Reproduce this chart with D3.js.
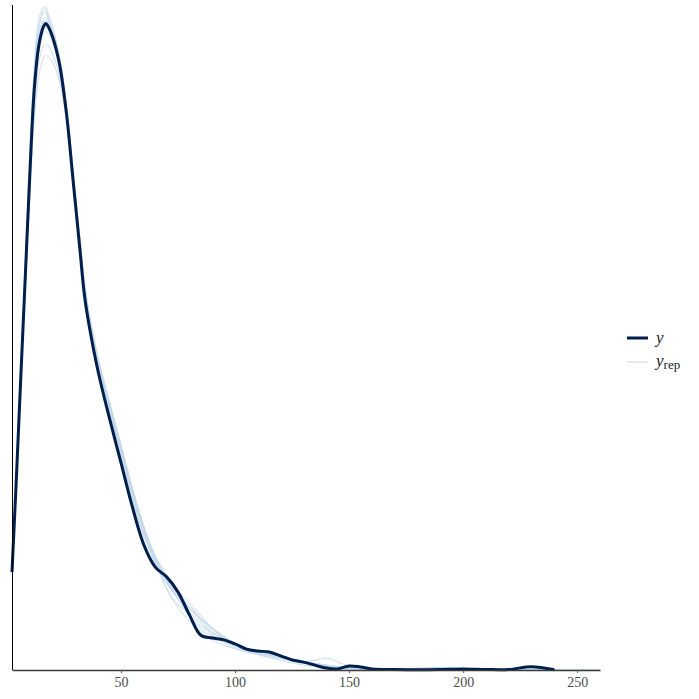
<!DOCTYPE html>
<meta charset="utf-8">
<style>
  body { margin: 0; background: #fff; }
  .yrep { fill: none; stroke: #c4d8ea; stroke-width: 1px; stroke-opacity: 0.9; }
  .yline { fill: none; stroke: #011f4b; stroke-width: 3px; }
  .tick text { font-family: "Liberation Serif", "DejaVu Serif", serif; font-size: 14px; fill: #4d4d4d; }
</style>
<body>
<script src="https://cdn.jsdelivr.net/npm/d3@7/dist/d3.min.js"></script>
<script>
// density evaluation grid (shared by y and yrep)
var xGrid = [2.2, 4, 6, 8, 10, 12, 14, 16, 17, 18, 20, 23, 26, 29, 32, 34, 36, 40, 45, 50, 55, 60,
  65, 70, 75, 80, 85, 90, 95, 100, 105, 110, 115, 120, 125, 130, 135, 140, 145, 150, 155, 160,
  170, 180, 190, 200, 210, 220, 230, 240, 250, 260];

var yDens = [0.00361, 0.00685, 0.01068, 0.01444, 0.01824, 0.02144, 0.02303, 0.02370, 0.02382, 0.02372, 0.02332,
  0.02233, 0.02056, 0.01802, 0.01547, 0.01378, 0.01270, 0.01098, 0.00925, 0.00763, 0.00600, 0.00461,
  0.00379, 0.00343, 0.00287, 0.00203, 0.00128, 0.00118, 0.00111, 0.00096, 0.00077, 0.00070,
  0.00066, 0.00052, 0.00037, 0.00029, 0.00018, 0.00007, 0.00004, 0.00015, 0.00011, 0.00004,
  0.00002, 0.00001, 0.00002, 0.00004, 0.00002, 0.00002, 0.00012, 0.00001, null, null];

var yrep1 = [0.00372, 0.00712, 0.01110, 0.01500, 0.01900, 0.02230, 0.02400, 0.02440, 0.02443, 0.02410, 0.02350,
  0.02230, 0.02050, 0.01800, 0.01560, 0.01400, 0.01290, 0.01120, 0.00950, 0.00800, 0.00640, 0.00500,
  0.00400, 0.00320, 0.00270, 0.00230, 0.00180, 0.00140, 0.00115, 0.00095, 0.00080, 0.00068,
  0.00058, 0.00048, 0.00038, 0.00030, 0.00024, 0.00018, 0.00012, 0.00008, 0.00005, 0.00003,
  0.00002, 0.00002, 0.00001, 0.00001, 0.00001, 0.00001, null, null, null, null];
var yrep2 = [0.00350, 0.00680, 0.01080, 0.01470, 0.01860, 0.02190, 0.02370, 0.02430, 0.02436, 0.02420, 0.02370,
  0.02260, 0.02080, 0.01830, 0.01570, 0.01400, 0.01280, 0.01100, 0.00940, 0.00790, 0.00620, 0.00490,
  0.00420, 0.00350, 0.00280, 0.00200, 0.00150, 0.00125, 0.00105, 0.00088, 0.00072, 0.00062,
  0.00055, 0.00046, 0.00035, 0.00026, 0.00020, 0.00015, 0.00010, 0.00006, 0.00004, 0.00003,
  0.00002, 0.00001, 0.00001, 0.00001, 0.00001, 0.00001, 0.00001, 0.00001, null, null];
var yrep3 = [0.00365, 0.00700, 0.01090, 0.01480, 0.01870, 0.02200, 0.02370, 0.02420, 0.02422, 0.02400, 0.02350,
  0.02250, 0.02070, 0.01820, 0.01560, 0.01395, 0.01280, 0.01110, 0.00960, 0.00810, 0.00650, 0.00510,
  0.00400, 0.00300, 0.00240, 0.00210, 0.00170, 0.00130, 0.00100, 0.00082, 0.00068, 0.00058,
  0.00050, 0.00042, 0.00034, 0.00030, 0.00036, 0.00044, 0.00030, 0.00014, 0.00006, 0.00003,
  0.00002, 0.00001, 0.00001, null, null, null, null, null, null, null];
var yrep4 = [0.00355, 0.00690, 0.01080, 0.01460, 0.01850, 0.02170, 0.02340, 0.02400, 0.02403, 0.02390, 0.02350,
  0.02260, 0.02090, 0.01840, 0.01580, 0.01415, 0.01300, 0.01130, 0.00970, 0.00820, 0.00660, 0.00520,
  0.00410, 0.00330, 0.00280, 0.00240, 0.00190, 0.00150, 0.00118, 0.00092, 0.00074, 0.00064,
  0.00056, 0.00047, 0.00038, 0.00029, 0.00021, 0.00015, 0.00010, 0.00007, 0.00005, 0.00004,
  0.00003, 0.00006, 0.00010, 0.00005, 0.00002, 0.00001, 0.00001, 0.00001, 0.00001, 0.00001];
var yrep5 = [0.00368, 0.00695, 0.01075, 0.01450, 0.01830, 0.02160, 0.02330, 0.02390, 0.02393, 0.02380, 0.02340,
  0.02240, 0.02070, 0.01820, 0.01570, 0.01405, 0.01290, 0.01120, 0.00950, 0.00790, 0.00630, 0.00500,
  0.00390, 0.00320, 0.00260, 0.00200, 0.00160, 0.00135, 0.00112, 0.00090, 0.00074, 0.00064,
  0.00054, 0.00044, 0.00034, 0.00026, 0.00018, 0.00012, 0.00008, 0.00005, 0.00003, 0.00002,
  0.00001, 0.00001, 0.00001, 0.00001, null, null, null, null, null, null];
var yrep6 = [0.00358, 0.00680, 0.01060, 0.01440, 0.01820, 0.02140, 0.02310, 0.02375, 0.02380, 0.02370, 0.02330,
  0.02240, 0.02080, 0.01840, 0.01590, 0.01425, 0.01310, 0.01140, 0.00980, 0.00830, 0.00670, 0.00530,
  0.00420, 0.00340, 0.00290, 0.00250, 0.00200, 0.00155, 0.00120, 0.00095, 0.00078, 0.00066,
  0.00058, 0.00050, 0.00040, 0.00031, 0.00023, 0.00016, 0.00011, 0.00007, 0.00004, 0.00003,
  0.00002, 0.00001, 0.00001, 0.00001, 0.00001, 0.00001, null, null, null, null];
var yrep7 = [0.00375, 0.00700, 0.01070, 0.01440, 0.01810, 0.02120, 0.02290, 0.02360, 0.02368, 0.02360, 0.02320,
  0.02230, 0.02060, 0.01820, 0.01570, 0.01405, 0.01290, 0.01130, 0.00960, 0.00800, 0.00640, 0.00510,
  0.00400, 0.00300, 0.00230, 0.00180, 0.00140, 0.00110, 0.00092, 0.00078, 0.00066, 0.00056,
  0.00046, 0.00036, 0.00026, 0.00018, 0.00012, 0.00008, 0.00005, 0.00003, 0.00002, 0.00001,
  0.00001, null, null, null, null, null, null, null, null, null];
var yrep8 = [0.00362, 0.00688, 0.01060, 0.01430, 0.01800, 0.02110, 0.02280, 0.02345, 0.02352, 0.02345, 0.02310,
  0.02230, 0.02070, 0.01830, 0.01580, 0.01415, 0.01300, 0.01130, 0.00970, 0.00810, 0.00650, 0.00515,
  0.00405, 0.00325, 0.00265, 0.00215, 0.00170, 0.00140, 0.00115, 0.00095, 0.00080, 0.00068,
  0.00058, 0.00049, 0.00041, 0.00033, 0.00025, 0.00018, 0.00012, 0.00008, 0.00005, 0.00004,
  0.00004, 0.00007, 0.00009, 0.00004, 0.00002, 0.00001, 0.00001, null, null, null];
var yrep9 = [0.00380, 0.00700, 0.01060, 0.01420, 0.01770, 0.02070, 0.02240, 0.02300, 0.02308, 0.02300, 0.02270,
  0.02190, 0.02040, 0.01820, 0.01580, 0.01420, 0.01310, 0.01140, 0.00980, 0.00820, 0.00660, 0.00520,
  0.00410, 0.00330, 0.00270, 0.00225, 0.00185, 0.00150, 0.00122, 0.00098, 0.00080, 0.00066,
  0.00055, 0.00045, 0.00036, 0.00028, 0.00021, 0.00015, 0.00010, 0.00006, 0.00004, 0.00003,
  0.00002, 0.00001, 0.00001, 0.00001, 0.00001, 0.00001, 0.00001, 0.00001, 0.00001, 0.00001];
var yrep10 = [0.00390, 0.00710, 0.01060, 0.01400, 0.01740, 0.02030, 0.02190, 0.02255, 0.02265, 0.02260, 0.02240,
  0.02170, 0.02030, 0.01820, 0.01590, 0.01430, 0.01320, 0.01150, 0.00990, 0.00830, 0.00670, 0.00530,
  0.00420, 0.00340, 0.00280, 0.00230, 0.00190, 0.00155, 0.00125, 0.00100, 0.00082, 0.00068,
  0.00057, 0.00047, 0.00038, 0.00030, 0.00023, 0.00017, 0.00012, 0.00008, 0.00005, 0.00003,
  0.00002, 0.00001, 0.00001, 0.00001, 0.00001, null, null, null, null, null];

var yrepList = [yrep1, yrep2, yrep3, yrep4, yrep5, yrep6, yrep7, yrep8, yrep9, yrep10];
var xTicks = [50, 100, 150, 200, 250];

// panel geometry
var W = 699, H = 699;
var panel = {left: 12, right: 600, top: 5, bottom: 670};

var svg = d3.select("body").append("svg")
    .attr("width", W)
    .attr("height", H);

var x = d3.scaleLinear().domain([2.2, 260]).range([panel.left, panel.right]);
var y = d3.scaleLinear().domain([0, 0.0245]).range([panel.bottom, panel.top]);

function lineFor(vals) {
  return d3.line()
    .defined(function(d) { return d !== null; })
    .x(function(d, i) { return x(xGrid[i]); })
    .y(function(d) { return y(d); })
    .curve(d3.curveCatmullRom.alpha(0.5))(vals);
}

// replicated densities
svg.selectAll(".yrep")
    .data(yrepList)
  .enter().append("path")
    .attr("class", "yrep")
    .attr("d", function(d) { return lineFor(d); });

// observed density
svg.append("path")
    .attr("class", "yline")
    .attr("d", lineFor(yDens));

// x axis
var xAxis = svg.append("g")
    .attr("transform", "translate(0," + panel.bottom + ")")
    .call(d3.axisBottom(x).tickValues(xTicks).tickSize(3).tickPadding(4).tickSizeOuter(0));
xAxis.select(".domain").attr("stroke", "#3a3a3a").attr("stroke-width", 1.3);
xAxis.selectAll(".tick line").attr("stroke", "#555");

// y axis line only
svg.append("line")
    .attr("x1", panel.left + 0.5).attr("x2", panel.left + 0.5)
    .attr("y1", panel.top).attr("y2", panel.bottom)
    .attr("stroke", "#000")
    .attr("stroke-width", 1);

// legend
var lg = svg.append("g").attr("transform", "translate(627,0)");
lg.append("line")
    .attr("x1", 0).attr("x2", 21).attr("y1", 338).attr("y2", 338)
    .attr("stroke", "#011f4b").attr("stroke-width", 3);
lg.append("line")
    .attr("x1", 0).attr("x2", 21).attr("y1", 362).attr("y2", 362)
    .attr("stroke", "#c4d8ea").attr("stroke-width", 1);
lg.append("text")
    .attr("x", 29).attr("y", 343)
    .style("font-family", "'Liberation Serif', serif")
    .style("font-style", "italic")
    .style("font-size", "17px")
    .attr("fill", "#222")
    .text("y");
var t2 = lg.append("text")
    .attr("x", 29).attr("y", 366)
    .style("font-family", "'Liberation Serif', serif")
    .style("font-size", "17px")
    .attr("fill", "#222");
t2.append("tspan").style("font-style", "italic").text("y");
t2.append("tspan").attr("dy", 3).style("font-size", "13px").text("rep");
</script>
</body>
